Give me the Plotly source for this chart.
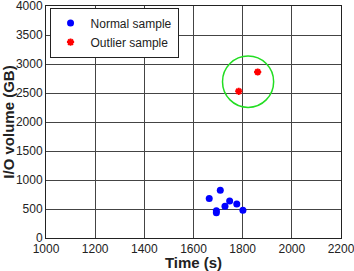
import plotly.graph_objects as go

normal_time = [1664, 1709, 1693, 1693, 1728, 1747, 1776, 1801]
normal_io = [680, 822, 471, 436, 546, 638, 586, 477]
outlier_time = [1784, 1861]
outlier_io = [2529, 2862]

circle_center = (1822, 2695)
circle_rx, circle_ry = 104, 443

x_ticks = [1000, 1200, 1400, 1600, 1800, 2000, 2200]
y_ticks = [0, 500, 1000, 1500, 2000, 2500, 3000, 3500, 4000]

font = "Liberation Sans, Arial, sans-serif"

fig = go.Figure()
fig.add_trace(go.Scatter(x=normal_time, y=normal_io, mode="markers", name="Normal sample",
                         marker=dict(color="#0000ff", size=7, symbol="circle")))
fig.add_trace(go.Scatter(x=outlier_time, y=outlier_io, mode="markers", name="Outlier sample",
                         marker=dict(color="#ff0000", size=6, symbol="asterisk-open",
                                     line=dict(color="#ff0000", width=2))))

fig.add_shape(type="circle", xref="x", yref="y",
              x0=circle_center[0] - circle_rx, x1=circle_center[0] + circle_rx,
              y0=circle_center[1] - circle_ry, y1=circle_center[1] + circle_ry,
              line=dict(color="#22dd22", width=1.5))

fig.update_layout(
    width=354, height=271,
    margin=dict(l=46, r=13, t=6, b=33, autoexpand=False),
    paper_bgcolor="white", plot_bgcolor="white",
    font=dict(family=font, size=12, color="#222"),
    showlegend=True,
    legend=dict(x=0.012, y=0.993, xanchor="left", yanchor="top",
                bgcolor="white", bordercolor="#222", borderwidth=1,
                font=dict(size=12), itemsizing="trace", itemwidth=30,
                tracegroupgap=0),
)
fig.update_xaxes(range=[1000, 2200], tickvals=x_ticks, showgrid=True, gridcolor="#444", gridwidth=1,
                 showline=True, linecolor="#222", linewidth=1, mirror=True, zeroline=False,
                 ticks="", tickfont=dict(size=12), automargin=False, ticklabeloverflow="allow",
                 title=dict(text="<b>Time (s)</b>", font=dict(size=15), standoff=1))
fig.update_yaxes(range=[0, 4000], tickvals=y_ticks, showgrid=True, gridcolor="#444", gridwidth=1,
                 showline=True, linecolor="#222", linewidth=1, mirror=True, zeroline=False,
                 ticks="", tickfont=dict(size=12), automargin=False, ticklabeloverflow="allow",
                 title=dict(text="<b>I/O volume (GB)</b>", font=dict(size=15), standoff=3))

fig.write_html("out.html")
